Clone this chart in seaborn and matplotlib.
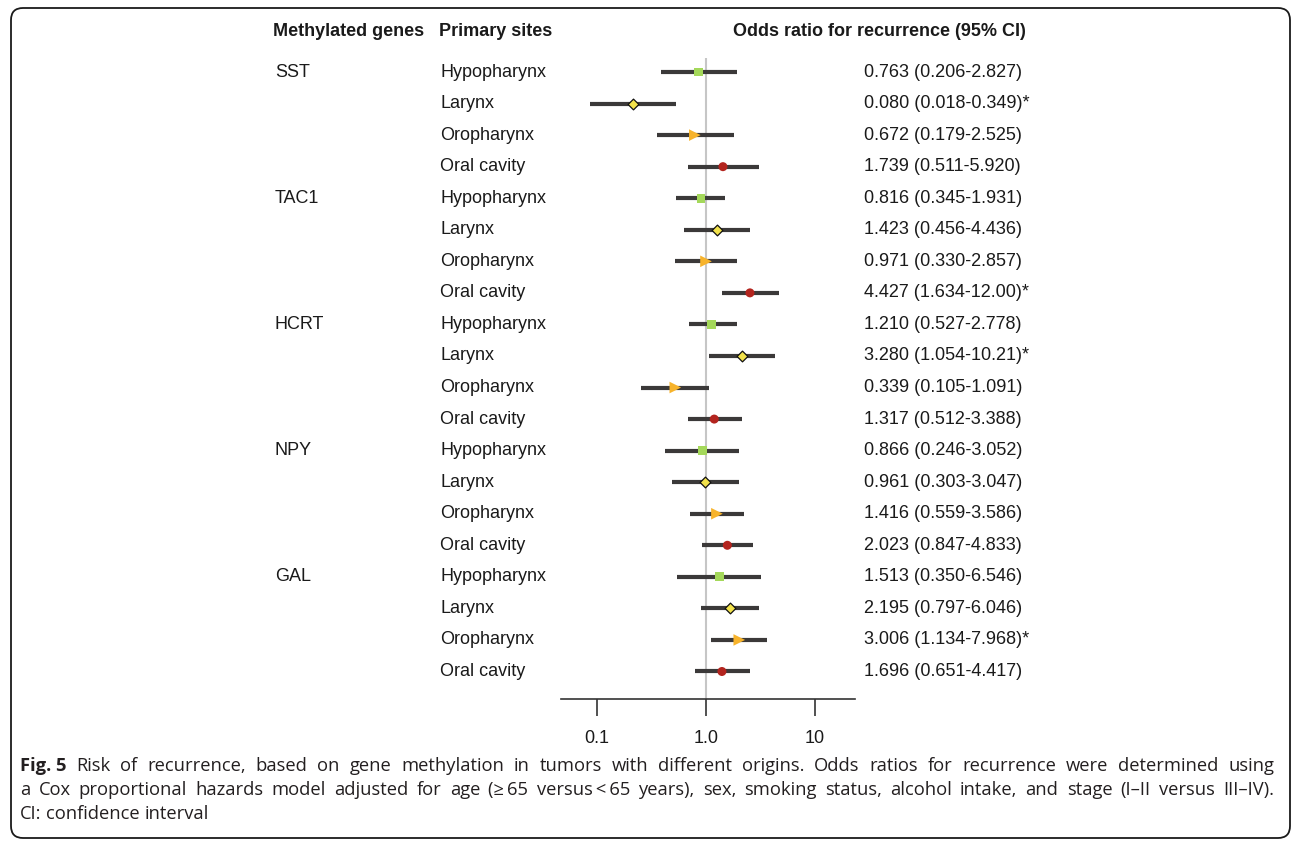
import numpy as np
import pandas as pd
import matplotlib
matplotlib.use("Agg")
import matplotlib.pyplot as plt
import matplotlib.transforms as mtransforms
from matplotlib.patches import FancyBboxPatch
import seaborn as sns

# ---------------- data ----------------
genes = ["SST", "TAC1", "HCRT", "NPY", "GAL"]
sites = ["Hypopharynx", "Larynx", "Oropharynx", "Oral cavity"]
or_labels = [
    "0.763 (0.206-2.827)", "0.080 (0.018-0.349)*", "0.672 (0.179-2.525)", "1.739 (0.511-5.920)",
    "0.816 (0.345-1.931)", "1.423 (0.456-4.436)", "0.971 (0.330-2.857)", "4.427 (1.634-12.00)*",
    "1.210 (0.527-2.778)", "3.280 (1.054-10.21)*", "0.339 (0.105-1.091)", "1.317 (0.512-3.388)",
    "0.866 (0.246-3.052)", "0.961 (0.303-3.047)", "1.416 (0.559-3.586)", "2.023 (0.847-4.833)",
    "1.513 (0.350-6.546)", "2.195 (0.797-6.046)", "3.006 (1.134-7.968)*", "1.696 (0.651-4.417)",
]
# plotted positions as drawn in the figure
or_point = [0.85, 0.214, 0.79, 1.43, 0.90, 1.27, 1.00, 2.53, 1.13, 2.13,
            0.523, 1.19, 0.925, 0.98, 1.26, 1.57, 1.32, 1.66, 2.02, 1.40]
ci_low = [0.384, 0.0863, 0.357, 0.68, 0.527, 0.628, 0.516, 1.39, 0.694, 1.065,
          0.253, 0.68, 0.423, 0.491, 0.718, 0.925, 0.538, 0.894, 1.10, 0.788]
ci_high = [1.94, 0.531, 1.81, 3.04, 1.50, 2.55, 1.94, 4.67, 1.91, 4.27,
           1.07, 2.15, 2.01, 2.01, 2.23, 2.68, 3.20, 3.08, 3.63, 2.53]
tick_values = [0.1, 1.0, 10]
tick_labels = ["0.1", "1.0", "10"]

caption_line1 = "Risk of recurrence, based on gene methylation in tumors with different origins. Odds ratios for recurrence were determined using"
caption_line2 = "a Cox proportional hazards model adjusted for age (≥\u200965 versus\u2009<\u200965 years), sex, smoking status, alcohol intake, and stage (I–II versus III–IV)."
caption_line3 = "CI: confidence interval"

# ---------------- frame ----------------
W, H = 1292, 841
sns.set_theme(style="white")
plt.rcParams["font.family"] = ["Liberation Sans", "DejaVu Sans"]

fig = plt.figure(figsize=(W / 100, H / 100), dpi=100)
fig.patch.set_facecolor("white")

def fx(px):
    return px / W

def fy(py):
    return 1 - py / H

ax_left, ax_right, ax_top, ax_bot = 561, 855, 58, 699
ax = fig.add_axes([fx(ax_left), fy(ax_bot), fx(ax_right - ax_left), (ax_bot - ax_top) / H])
ax.set_xscale("log")

n = len(genes) * len(sites)
df = pd.DataFrame({
    "row": np.arange(n),
    "gene": np.repeat(genes, len(sites)),
    "site": sites * len(genes),
    "point": or_point,
    "low": ci_low,
    "high": ci_high,
    "label": or_labels,
})

x_lo = 10 ** ((ax_left - 706) / 109)
x_hi = 10 ** ((ax_right - 706) / 109)
ax.set_xlim(x_lo, x_hi)
row_sp = 31.55
ax.set_ylim(19 + (ax_bot - 671.5) / row_sp, -(72 - ax_top) / row_sp)

ax.axvline(1.0, color="#c6c6c6", lw=1.5, zorder=1)
ax.hlines(df["row"], df["low"], df["high"], color="#3b3939", lw=3.0, capstyle="butt", zorder=2)

styles = {
    "Hypopharynx": dict(marker="s", s=40, color="#a4d85a", edgecolor="none", linewidth=0),
    "Larynx": dict(marker="D", s=30, color="#f2e24b", edgecolor="#111111", linewidth=0.9),
    "Oropharynx": dict(marker=">", s=70, color="#f7b32b", edgecolor="none", linewidth=0),
    "Oral cavity": dict(marker="o", s=42, color="#b3241e", edgecolor="none", linewidth=0),
}
for site in sites:
    sub = df[df["site"] == site]
    sns.scatterplot(data=sub, x="point", y="row", ax=ax, legend=False, zorder=3, **styles[site])

ax.set_xlabel("")
ax.set_ylabel("")
ax.set_yticks([])
ax.set_xticks(tick_values)
ax.set_xticklabels(tick_labels)
ax.xaxis.set_minor_locator(matplotlib.ticker.NullLocator())
ax.tick_params(axis="x", direction="out", length=12.5, width=1.2, color="#333333",
               pad=9.5, labelsize=13, labelcolor="#1a1a1a", bottom=True)
for side in ["top", "left", "right"]:
    ax.spines[side].set_visible(False)
ax.spines["bottom"].set_color("#333333")
ax.spines["bottom"].set_linewidth(1.2)
ax.set_facecolor("none")
ax.grid(False)

# ---------------- table texts ----------------
txt_color = "#1a1a1a"
fs = 13
hy = fy(31)
fig.text(fx(273), hy, "Methylated genes", fontsize=fs, fontweight="bold", color=txt_color, va="center", ha="left")
fig.text(fx(439), hy, "Primary sites", fontsize=fs, fontweight="bold", color=txt_color, va="center", ha="left")
fig.text(fx(733), hy, "Odds ratio for recurrence (95% CI)", fontsize=fs, fontweight="bold", color=txt_color, va="center", ha="left")

blend = mtransforms.blended_transform_factory(fig.transFigure, ax.transData)
for _, r in df.iterrows():
    if r["site"] == sites[0]:
        ax.text(fx(275), r["row"], r["gene"], transform=blend, fontsize=fs, color=txt_color,
                va="center", ha="left", clip_on=False)
    ax.text(fx(440), r["row"], r["site"], transform=blend, fontsize=fs, color=txt_color,
            va="center", ha="left", clip_on=False)
    ax.text(fx(864), r["row"], r["label"], transform=blend, fontsize=fs, color=txt_color,
            va="center", ha="left", clip_on=False)

# ---------------- caption ----------------
cap_family = ["Open Sans", "DejaVu Sans"]
cap_fs = 13.2
cap_color = "#231f20"
renderer = fig.canvas.get_renderer()

def justify(tokens, y_px, x0=20, x1=1274, justify_line=True):
    objs = []
    for word, bold in tokens:
        t = fig.text(0, fy(y_px), word, fontsize=cap_fs, family=cap_family, color=cap_color,
                     fontweight="bold" if bold else "normal", va="center", ha="left")
        objs.append(t)
    widths = [t.get_window_extent(renderer).width for t in objs]
    sp = fig.text(0, 0, "a a", fontsize=cap_fs, family=cap_family)
    sp2 = fig.text(0, 0, "aa", fontsize=cap_fs, family=cap_family)
    space = sp.get_window_extent(renderer).width - sp2.get_window_extent(renderer).width
    sp.remove(); sp2.remove()
    if justify_line and len(objs) > 1:
        gap = (x1 - x0 - sum(widths)) / (len(objs) - 1)
    else:
        gap = space
    x = x0
    for t, w in zip(objs, widths):
        t.set_x(fx(x))
        x += w + gap

tok1 = [("Fig. 5", True)] + [(w, False) for w in caption_line1.split(" ")]
tok2 = [(w, False) for w in caption_line2.split(" ")]
tok3 = [(w, False) for w in caption_line3.split(" ")]
justify(tok1, 766)
justify(tok2, 790)
justify(tok3, 814, justify_line=False)

# rounded frame
frame = FancyBboxPatch((11, H - 838), 1279, 830, boxstyle="round,pad=0,rounding_size=12",
                       transform=mtransforms.IdentityTransform(), fill=False,
                       edgecolor="#1a1a1a", linewidth=1.3)
fig.patches.append(frame)

fig.savefig("out.png", dpi=100)
